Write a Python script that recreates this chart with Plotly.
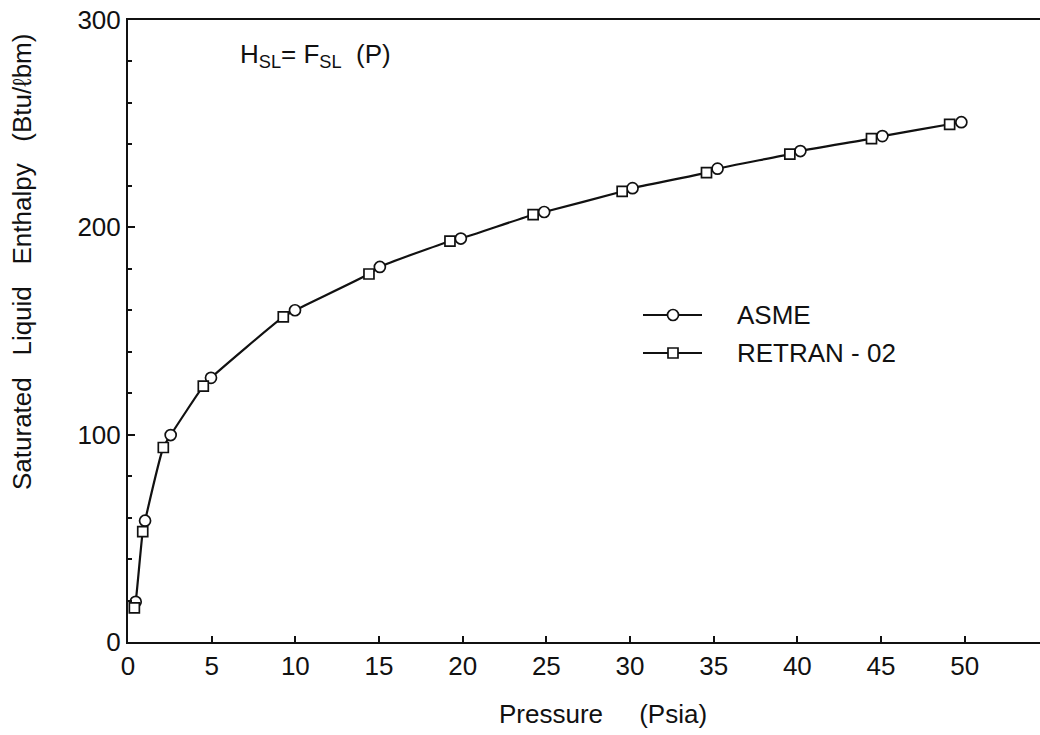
import plotly.graph_objects as go

# Saturated liquid enthalpy vs. pressure: ASME tables and RETRAN-02 fit
asme_p = [0.46, 1.02, 2.55, 4.96, 9.98, 15.05, 19.89, 24.87, 30.15, 35.23, 40.18, 45.08, 49.80]
asme_h = [19.4, 58.5, 99.8, 127.4, 160.0, 180.9, 194.6, 207.4, 218.9, 228.3, 236.8, 244.0, 250.7]

retran_p = [0.38, 0.88, 2.11, 4.50, 9.28, 14.40, 19.24, 24.21, 29.53, 34.57, 39.55, 44.43, 49.10]
retran_h = [16.5, 53.2, 93.8, 123.4, 156.8, 177.5, 193.3, 206.1, 217.3, 226.4, 235.3, 242.8, 249.7]

series_names = ["ASME", "RETRAN - 02"]
x_ticks = [0, 5, 10, 15, 20, 25, 30, 35, 40, 45, 50]
y_ticks = [0, 100, 200, 300]

FONT = "Liberation Sans, Arial, sans-serif"
INK = "#111111"
FS = 26

# plot area in pixels
W, H = 1040, 735
L, R, T, B = 128, 0, 20, 93
PW, PH = W - L - R, H - T - B


def px(xp):
    return (xp - L) / PW


def py(yp):
    return (H - B - yp) / PH


# single smooth curve through both sets of points
pts = sorted(zip(asme_p + retran_p, asme_h + retran_h))
curve_p = [p for p, _ in pts]
curve_h = [h for _, h in pts]

fig = go.Figure()
fig.add_trace(go.Scatter(
    x=curve_p, y=curve_h, mode="lines",
    line=dict(color=INK, width=2.2, shape="spline", smoothing=0.6),
    showlegend=False, hoverinfo="skip",
))
fig.add_trace(go.Scatter(
    x=asme_p, y=asme_h, mode="markers", name=series_names[0], showlegend=False,
    marker=dict(symbol="circle", size=11, color="white", line=dict(color=INK, width=1.7)),
))
fig.add_trace(go.Scatter(
    x=retran_p, y=retran_h, mode="markers", name=series_names[1], showlegend=False,
    marker=dict(symbol="square", size=10, color="white", line=dict(color=INK, width=1.7)),
))

fig.update_layout(
    width=W, height=H,
    margin=dict(l=L, r=R, t=T, b=B),
    paper_bgcolor="white", plot_bgcolor="white",
    font=dict(family=FONT, color=INK, size=FS),
)

fig.update_xaxes(
    range=[0, 54.5], tickvals=x_ticks, ticktext=[str(v) for v in x_ticks],
    ticks="inside", ticklen=6, tickwidth=1.5, tickcolor=INK,
    showline=True, linecolor=INK, linewidth=2, mirror=True,
    showgrid=False, zeroline=False,
    tickfont=dict(size=FS, family=FONT),
)
fig.update_yaxes(
    range=[0, 300], tickvals=y_ticks, ticktext=[str(v) for v in y_ticks],
    ticks="inside", ticklen=7, tickwidth=1.5, tickcolor=INK,
    minor=dict(dtick=20, ticks="inside", ticklen=4, tickcolor=INK),
    showline=True, linecolor=INK, linewidth=2,
    showgrid=False, zeroline=False,
    tickfont=dict(size=FS, family=FONT),
)

# key: line sample with marker, then the series name
key_rows = [(315, "circle"), (353, "rect")]
for (yrow, kind), name in zip(key_rows, series_names):
    fig.add_shape(type="line", xref="paper", yref="paper",
                  x0=px(643), x1=px(702), y0=py(yrow), y1=py(yrow),
                  line=dict(color=INK, width=2.2))
    r = 5.5 if kind == "circle" else 5
    fig.add_shape(type=kind, xref="paper", yref="paper",
                  x0=px(673 - r), x1=px(673 + r), y0=py(yrow - r), y1=py(yrow + r),
                  fillcolor="white", line=dict(color=INK, width=1.7))
    fig.add_annotation(text=name, xref="paper", yref="paper",
                       x=px(735), y=py(yrow), xanchor="left", yanchor="middle",
                       showarrow=False, font=dict(size=FS, family=FONT))

fig.add_annotation(
    text="Pressure&nbsp;&nbsp;&nbsp;&nbsp;&nbsp;(Psia)", xref="paper", yref="paper",
    x=px(603), y=py(714), xanchor="center", yanchor="middle",
    showarrow=False, font=dict(size=FS, family=FONT),
)
fig.add_annotation(
    text="Saturated&nbsp;&nbsp;&nbsp;Liquid&nbsp;&nbsp;&nbsp;Enthalpy&nbsp;&nbsp;&nbsp;(Btu/ℓbm)",
    xref="paper", yref="paper",
    x=px(22), y=py(262), xanchor="center", yanchor="middle",
    textangle=-90, showarrow=False, font=dict(size=FS, family=FONT),
)
fig.add_annotation(
    text="H<sub>SL</sub>= F<sub>SL</sub>&nbsp;&nbsp;(P)", xref="paper", yref="paper",
    x=px(238), y=py(56), xanchor="left", yanchor="middle",
    showarrow=False, font=dict(size=FS, family=FONT),
)

fig.write_html("out.html")
